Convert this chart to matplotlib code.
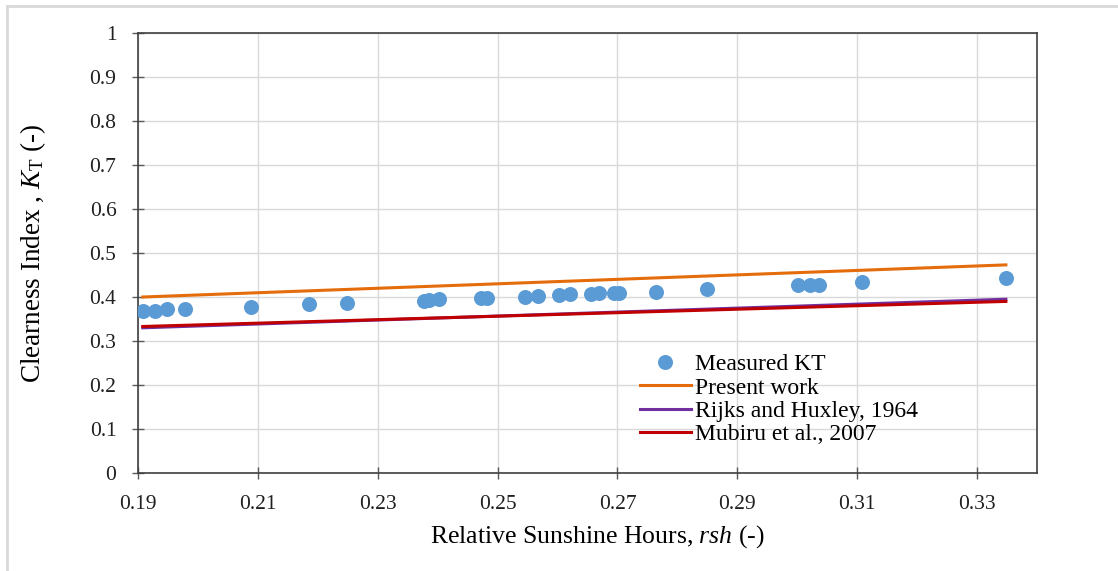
import numpy as np
import matplotlib
matplotlib.use("Agg")
import matplotlib.pyplot as plt
from matplotlib.lines import Line2D

plt.rcParams['font.family'] = ['Liberation Serif', 'DejaVu Serif']
plt.rcParams['mathtext.fontset'] = 'custom'
plt.rcParams['mathtext.rm'] = 'Liberation Serif'
plt.rcParams['mathtext.it'] = 'Liberation Serif:italic'

# measured data
rsh = [0.1908, 0.1928, 0.1948, 0.1978, 0.2088, 0.2185, 0.2248, 0.2378, 0.2386,
       0.2403, 0.2472, 0.2482, 0.2545, 0.2568, 0.2602, 0.2620, 0.2655, 0.2670,
       0.2695, 0.2703, 0.2765, 0.2850, 0.3002, 0.3022, 0.3037, 0.3108, 0.3348]
kt = [0.369, 0.369, 0.372, 0.372, 0.378, 0.384, 0.386, 0.392, 0.394,
      0.395, 0.398, 0.398, 0.400, 0.403, 0.404, 0.406, 0.406, 0.408,
      0.409, 0.409, 0.412, 0.418, 0.427, 0.427, 0.427, 0.433, 0.444]

# model lines (endpoints)
line_x = [0.1908, 0.3348]
present = [0.400, 0.473]
rijks = [0.330, 0.395]
mubiru = [0.333, 0.390]

fig = plt.figure(figsize=(11.18, 5.71), dpi=100)
ax = fig.add_axes([0.1234, 0.1716, 0.8042, 0.7706])

ax.plot(line_x, present, color='#E46C0A', lw=2.2, label='Present work', zorder=3)
ax.plot(line_x, rijks, color='#7030A0', lw=2.2, label='Rijks and Huxley, 1964', zorder=3)
ax.plot(line_x, mubiru, color='#C00000', lw=2.2, label='Mubiru et al., 2007', zorder=3)
ax.plot(rsh, kt, 'o', color='#5B9BD5', ms=10.8, mec='none', label='Measured KT', zorder=4)

ax.set_xlim(0.19, 0.34)
ax.set_ylim(0, 1)
ax.set_xticks(np.arange(0.19, 0.335, 0.02))
ax.set_xticklabels(['0.19', '0.21', '0.23', '0.25', '0.27', '0.29', '0.31', '0.33'])
ax.set_yticks(np.arange(0, 1.01, 0.1))
ax.set_yticklabels(['0', '0.1', '0.2', '0.3', '0.4', '0.5', '0.6', '0.7', '0.8', '0.9', '1'])
ax.grid(True, color='#d9d9d9', lw=1)
ax.set_axisbelow(True)
ax.tick_params(direction='inout', length=9, width=1, colors='#595959',
               labelcolor='#202020', labelsize=15.5)
ax.tick_params(axis='y', pad=11)
ax.tick_params(axis='x', pad=11)
for s in ax.spines.values():
    s.set_color('#404040')
    s.set_linewidth(1.2)

ax.set_xlabel('Relative Sunshine Hours, $\\mathit{rsh}$ (-)', fontsize=18.5, labelpad=9)
ax.xaxis.set_label_coords(0.5106, -0.115)
ax.set_ylabel('Clearness Index , $\\mathit{K}_{\\mathrm{T}}$ (-)', fontsize=19.5, labelpad=30)

handles, labels = ax.get_legend_handles_labels()
order = [3, 0, 1, 2]
leg = ax.legend([handles[i] for i in order], [labels[i] for i in order],
                loc='upper left', bbox_to_anchor=(0.545, 0.298), frameon=False,
                fontsize=17, handlelength=2.15, handletextpad=0.2,
                labelspacing=0.08, borderpad=0)

# outer chart border
fig.add_artist(Line2D([7/1118, 1.0], [1-6/571, 1-6/571], color='#d9d9d9', lw=2))
fig.add_artist(Line2D([7/1118, 7/1118], [0.0, 1-6/571], color='#d9d9d9', lw=2))

fig.savefig('out.png', dpi=100)
